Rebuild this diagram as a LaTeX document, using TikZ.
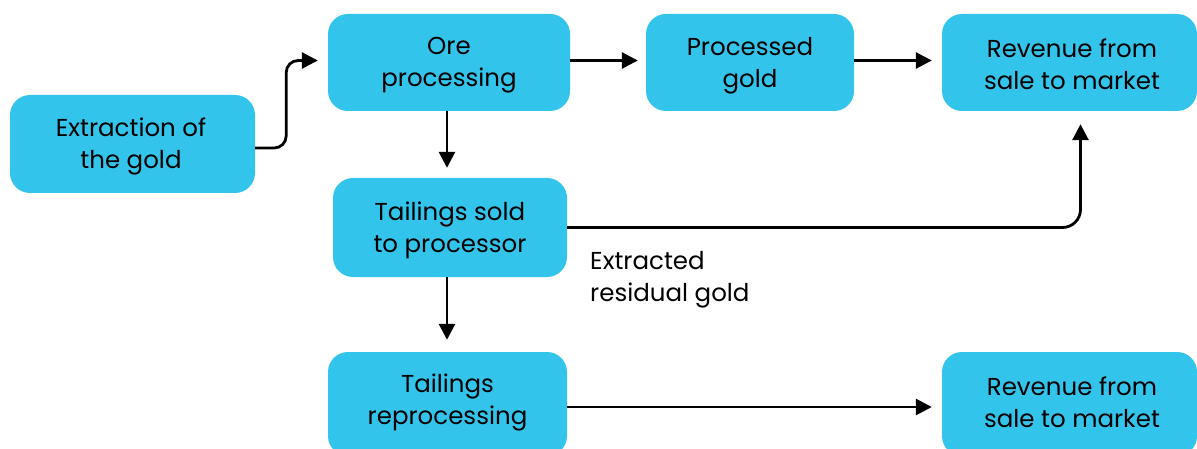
\documentclass[tikz,border=0pt]{standalone}
\usepackage{fontspec}
\setmainfont{Poppins}
\usetikzlibrary{arrows.meta}
\definecolor{boxblue}{RGB}{51,196,236}
\begin{document}
\begin{tikzpicture}[x=1pt,y=-1pt,
  box/.style={fill=boxblue, rounded corners=20pt, inner sep=0pt},
  txt/.style={align=center, inner sep=0pt, font=\fontsize{24.5}{32}\selectfont, text=black},
  arr/.style={line width=2.8pt, -{Triangle[length=16pt,width=16pt]}},
  lbl/.style={align=left, font=\fontsize{24.5}{32}\selectfont, anchor=north west, inner sep=0pt}]
\useasboundingbox (0,0) rectangle (1197,449);
\clip (0,0) rectangle (1197,449);
\node[box, minimum width=245pt, minimum height=98pt] (extr) at (132.5,144) {};
\node[box, minimum width=242pt, minimum height=97pt] (ore) at (449,62.5) {};
\node[box, minimum width=208pt, minimum height=97pt] (proc) at (750,62.5) {};
\node[box, minimum width=255pt, minimum height=97pt] (rev1) at (1069.5,62.5) {};
\node[box, minimum width=234pt, minimum height=99pt] (tail) at (450,227.5) {};
\node[box, minimum width=239pt, minimum height=104pt] (reproc) at (447.5,404) {};
\node[box, minimum width=255pt, minimum height=104pt] (rev2) at (1069.5,404) {};
\node[txt] (extr-t) at (131,146) {Extraction of\\the gold};
\node[txt] (ore-t) at (449,65.5) {Ore\\processing};
\node[txt] (proc-t) at (750,65.5) {Processed\\gold};
\node[txt] (rev1-t) at (1072,64.5) {Revenue from\\sale to market};
\node[txt] (tail-t) at (450,230) {Tailings sold\\to processor};
\node[txt] (reproc-t) at (447.5,402) {Tailings\\reprocessing};
\node[txt] (rev2-t) at (1072,402) {Revenue from\\sale to market};
\node[lbl] (extlbl) at (590,251) {Extracted\\residual gold};
\draw[arr, rounded corners=12pt, shorten >=10pt] (extr.east) ++(0,4) -- ++(31,0) |- ([yshift=2]ore.west);
\draw[arr, shorten >=8pt] ([yshift=2]ore.east) -- ([yshift=2]proc.west);
\draw[arr, shorten >=10pt] ([yshift=2]proc.east) -- ([yshift=2]rev1.west);
\draw[arr, shorten >=10pt] ([xshift=-2]ore.south) -- ([xshift=-2]ore.south |- tail.north);
\draw[arr, rounded corners=18pt, shorten >=13pt] (tail.east) -| ([xshift=11]rev1.south);
\draw[arr, shorten >=12pt] ([xshift=-3]tail.south) -- ([xshift=-3]tail.south |- reproc.north);
\draw[arr, shorten >=10pt] ([yshift=-3]reproc.east) -- ([yshift=-3]reproc.east -| rev2.west);
\end{tikzpicture}
\end{document}
